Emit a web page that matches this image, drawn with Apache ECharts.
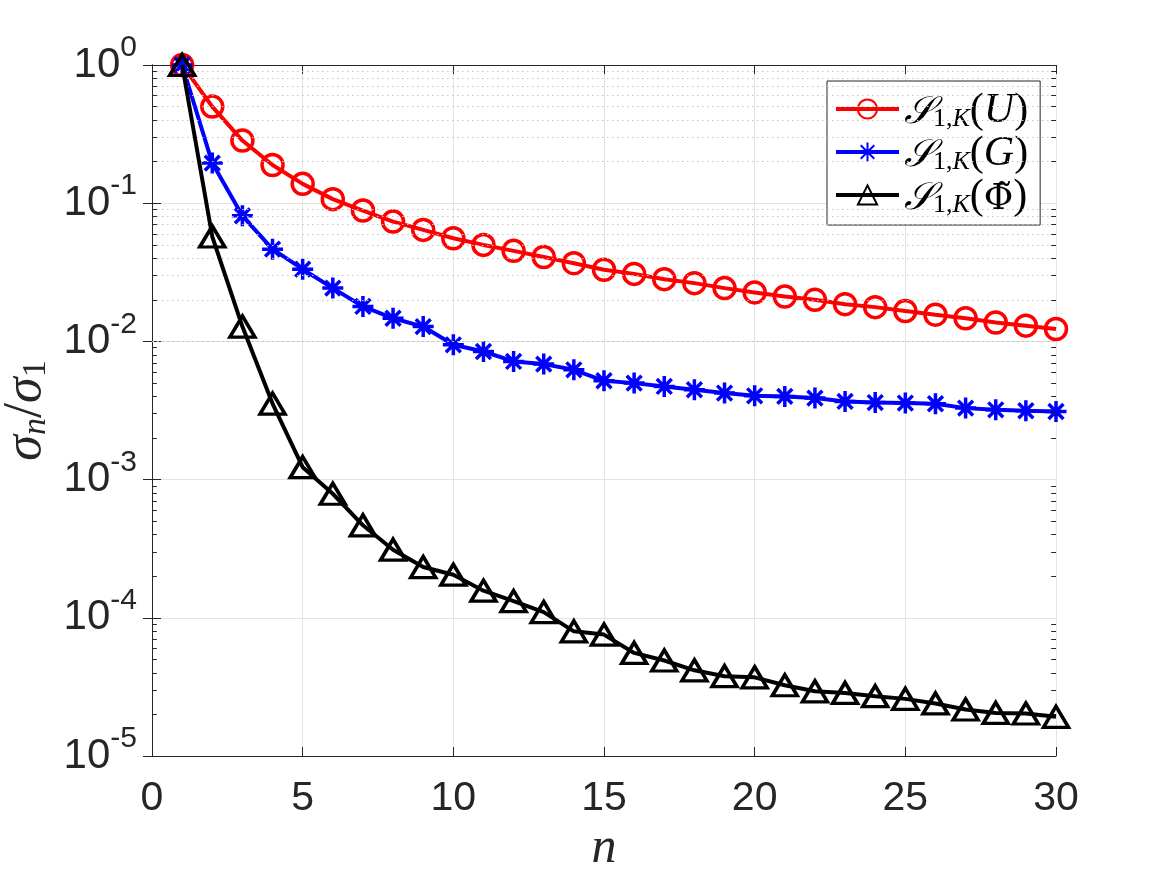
<!DOCTYPE html>
<html>
<head>
<meta charset="utf-8">
<script src="https://cdn.jsdelivr.net/npm/echarts@6/dist/echarts.min.js"></script>
<style>
  html, body { margin: 0; padding: 0; background: #fff; }
  #chart { width: 1167px; height: 875px; }
</style>
</head>
<body>
<div id="chart"></div>
<script>
// n = 1..30
const nValues = [1, 2, 3, 4, 5, 6, 7, 8, 9, 10, 11, 12, 13, 14, 15,
  16, 17, 18, 19, 20, 21, 22, 23, 24, 25, 26, 27, 28, 29, 30];

// sigma_n / sigma_1
const uValues = [1, 0.50, 0.284, 0.189, 0.138, 0.107, 0.0885, 0.0736, 0.0641, 0.0558,
  0.0499, 0.0452, 0.0408, 0.0368, 0.0330, 0.0308, 0.0282, 0.0264, 0.0243, 0.0226,
  0.0211, 0.0200, 0.0186, 0.0177, 0.0166, 0.0156, 0.0147, 0.0137, 0.0130, 0.0123];
const gValues = [1, 0.195, 0.081, 0.0465, 0.0333, 0.0243, 0.0179, 0.0147, 0.0128, 0.00945,
  0.00845, 0.00716, 0.00685, 0.00623, 0.00519, 0.00499, 0.00472, 0.00447, 0.00423, 0.00404,
  0.00400, 0.00389, 0.00368, 0.00361, 0.00358, 0.00354, 0.00329, 0.00320, 0.00315, 0.00311];
const phiValues = [1, 0.0574, 0.0128, 0.00355, 0.00123, 7.9e-4, 4.67e-4, 3.11e-4, 2.33e-4, 2.05e-4,
  1.57e-4, 1.32e-4, 1.10e-4, 7.98e-5, 7.56e-5, 5.57e-5, 4.91e-5, 4.17e-5, 3.78e-5, 3.71e-5,
  3.25e-5, 2.94e-5, 2.86e-5, 2.71e-5, 2.59e-5, 2.40e-5, 2.17e-5, 2.05e-5, 2.03e-5, 1.92e-5];

const seriesNames = ['U', 'G', 'Phi'];
const yDecades = [-5, -4, -3, -2, -1, 0];

const axisColor = '#262626';
const tickFont = 'Liberation Sans, Arial, Helvetica, sans-serif';
const mathFont = 'Liberation Serif, Times New Roman, serif';

const pairs = vals => nValues.map((n, i) => [n, vals[i]]);

// minor log grid: 2..9 x 10^k
const minorLines = [];
const minorTicks = [];
for (let k = yDecades[0]; k < yDecades[yDecades.length - 1]; k++) {
  for (let m = 2; m <= 9; m++) {
    const v = m * Math.pow(10, k);
    minorLines.push({ yAxis: v });
    minorTicks.push([{ coord: [0, v] }, { coord: [0.16, v] }]);
    minorTicks.push([{ coord: [29.84, v] }, { coord: [30, v] }]);
  }
}

const asterisk = 'path://M0,-10L0,10M-10,0L10,0M-7.07,-7.07L7.07,7.07M-7.07,7.07L7.07,-7.07';

const legendRich = {
  s: { fontFamily: 'DejaVu Serif, serif', fontStyle: 'italic', fontSize: 38, lineHeight: 46, color: '#000', verticalAlign: 'bottom' },
  sub: { fontFamily: mathFont, fontSize: 26, lineHeight: 28, color: '#000', verticalAlign: 'bottom' },
  subi: { fontFamily: mathFont, fontStyle: 'italic', fontSize: 26, lineHeight: 28, color: '#000', verticalAlign: 'bottom' },
  p: { fontFamily: mathFont, fontSize: 42, lineHeight: 46, color: '#000', verticalAlign: 'bottom' },
  pi: { fontFamily: mathFont, fontStyle: 'italic', fontSize: 42, lineHeight: 46, color: '#000', verticalAlign: 'bottom' },
  phi: { fontFamily: 'DejaVu Serif, serif', fontSize: 36, lineHeight: 46, color: '#000', verticalAlign: 'bottom' }
};
const legendText = {
  U: '{s|𝒮}{sub|1,}{subi|K}{p|(}{pi|U}{p|)}',
  G: '{s|𝒮}{sub|1,}{subi|K}{p|(}{pi|G}{p|)}',
  Phi: '{s|𝒮}{sub|1,}{subi|K}{p|(}{phi|Φ̃}{p|)}'
};

const chart = echarts.init(document.getElementById('chart'));

chart.setOption({
  backgroundColor: '#fff',
  animation: false,
  grid: { left: 152, top: 65, right: 111, bottom: 119, outerBoundsMode: 'none', containLabel: false },
  legend: {
    data: seriesNames,
    orient: 'vertical',
    left: 827,
    top: 81,
    padding: [9, 12, 7, 7],
    itemGap: 1,
    itemWidth: 63,
    itemHeight: 24,
    backgroundColor: '#fff',
    borderColor: axisColor,
    borderWidth: 1,
    lineStyle: { width: 4 },
    formatter: name => legendText[name],
    textStyle: { rich: legendRich }
  },
  xAxis: [
    {
      type: 'value',
      min: 0, max: 30, interval: 5,
      name: 'n',
      nameLocation: 'middle',
      nameGap: 66,
      nameTextStyle: { fontFamily: mathFont, fontStyle: 'italic', fontSize: 50, color: axisColor },
      axisLine: { onZero: false, lineStyle: { color: axisColor, width: 1 } },
      axisTick: { inside: true, length: 9, lineStyle: { color: axisColor } },
      axisLabel: { fontFamily: tickFont, fontSize: 41, color: axisColor, margin: 22 },
      splitLine: { show: true, lineStyle: { color: '#e3e3e3', width: 1 } }
    },
    {
      type: 'value', position: 'top',
      min: 0, max: 30, interval: 5,
      axisLine: { onZero: false, lineStyle: { color: axisColor, width: 1 } },
      axisTick: { inside: true, length: 9, lineStyle: { color: axisColor } },
      axisLabel: { show: false },
      splitLine: { show: false }
    }
  ],
  yAxis: [
    {
      type: 'log', logBase: 10,
      min: 1e-5, max: 1, splitNumber: 5,
      name: '{s|σ}{n|n}{l|/}{s|σ}{o|1}',
      nameLocation: 'middle',
      nameRotate: 90,
      nameGap: 96,
      nameTextStyle: {
        rich: {
          s: { fontFamily: mathFont, fontStyle: 'italic', fontSize: 52, lineHeight: 58, color: axisColor, verticalAlign: 'bottom' },
          l: { fontFamily: mathFont, fontSize: 54, lineHeight: 58, color: axisColor, verticalAlign: 'bottom' },
          n: { fontFamily: mathFont, fontStyle: 'italic', fontSize: 34, lineHeight: 46, color: axisColor, verticalAlign: 'bottom' },
          o: { fontFamily: mathFont, fontSize: 34, lineHeight: 46, color: axisColor, verticalAlign: 'bottom' }
        }
      },
      axisLine: { lineStyle: { color: axisColor, width: 1 } },
      axisTick: { inside: true, length: 9, lineStyle: { color: axisColor } },
      axisLabel: {
        margin: 15,
        formatter: v => '{b|10}{e|' + Math.round(Math.log10(v)) + '}',
        rich: {
          b: { fontFamily: tickFont, fontSize: 42, lineHeight: 42, color: axisColor, verticalAlign: 'bottom' },
          e: { fontFamily: tickFont, fontSize: 30, lineHeight: 30, color: axisColor, verticalAlign: 'bottom', padding: [0, 0, 23, 0] }
        }
      },
      splitLine: { show: true, lineStyle: { color: '#e3e3e3', width: 1 } }
    },
    {
      type: 'log', logBase: 10, position: 'right',
      min: 1e-5, max: 1, splitNumber: 5,
      axisLine: { show: true, lineStyle: { color: axisColor, width: 1 } },
      axisTick: { inside: true, length: 9, lineStyle: { color: axisColor } },
      axisLabel: { show: false },
      splitLine: { show: false }
    }
  ],
  series: [
    {
      name: 'minor',
      type: 'line',
      data: [[0, 1e-5]],
      symbol: 'none',
      lineStyle: { width: 0 },
      silent: true,
      z: 1,
      markLine: {
        silent: true,
        symbol: 'none',
        label: { show: false },
        animation: false,
        data: minorLines,
        lineStyle: { color: '#c4c4c4', type: [1.5, 3.5], width: 1 }
      }
    },
    {
      name: 'minorTicks',
      type: 'line',
      data: [[0, 1e-5]],
      symbol: 'none',
      lineStyle: { width: 0 },
      silent: true,
      z: 1,
      markLine: {
        silent: true,
        symbol: 'none',
        label: { show: false },
        animation: false,
        data: minorTicks,
        lineStyle: { color: axisColor, type: 'solid', width: 1 }
      }
    },
    {
      name: 'U',
      type: 'line',
      data: pairs(uValues),
      symbol: 'circle',
      symbolSize: 21,
      lineStyle: { color: '#ff0000', width: 4 },
      itemStyle: { color: 'rgba(0,0,0,0)', borderColor: '#ff0000', borderWidth: 3.5 },
      z: 3
    },
    {
      name: 'G',
      type: 'line',
      data: pairs(gValues),
      symbol: asterisk,
      symbolSize: 21,
      lineStyle: { color: '#0000ff', width: 4 },
      itemStyle: { color: 'rgba(0,0,0,0)', borderColor: '#0000ff', borderWidth: 3.5 },
      z: 4
    },
    {
      name: 'Phi',
      type: 'line',
      data: pairs(phiValues),
      symbol: 'triangle',
      symbolSize: [25, 21],
      lineStyle: { color: '#000000', width: 4 },
      itemStyle: { color: 'rgba(0,0,0,0)', borderColor: '#000000', borderWidth: 3.5 },
      z: 5
    }
  ]
});
</script>
</body>
</html>
